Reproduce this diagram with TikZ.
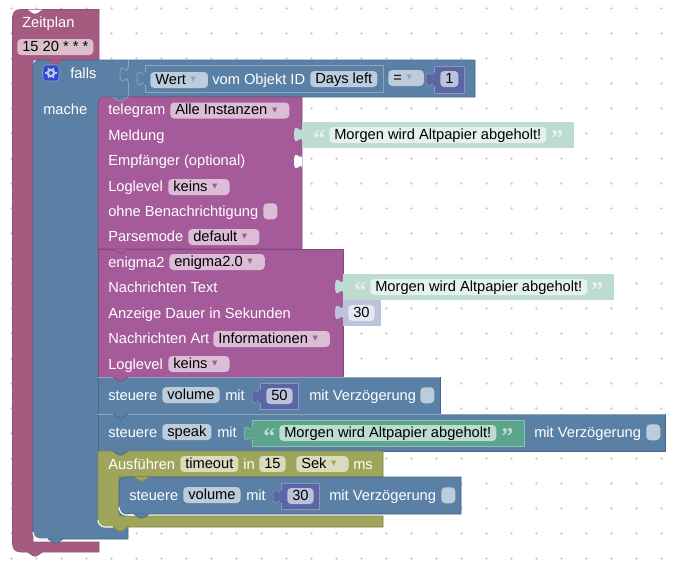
\documentclass[tikz,border=0pt]{standalone}
\usepackage{fontspec}
\setmainfont{Liberation Sans}
\newfontfamily\dejavu{DejaVu Sans}
\newfontfamily\quotefont{Liberation Serif}[BoldFont={Liberation Serif Bold}]

\definecolor{pinkblk}{HTML}{A55B80}
\definecolor{pinkfld}{HTML}{DBBDCC}
\definecolor{pinkdrk}{HTML}{94527A}
\definecolor{blueblk}{HTML}{5B80A5}
\definecolor{bluefld}{HTML}{BDCCDB}
\definecolor{bluelin}{HTML}{8CA6C0}
\definecolor{bluedrk}{HTML}{49668A}
\definecolor{purpblk}{HTML}{A55B99}
\definecolor{purpfld}{HTML}{DBBDD6}
\definecolor{purpdrk}{HTML}{84497A}
\definecolor{olivblk}{HTML}{9FA55B}
\definecolor{olivfld}{HTML}{DADBBD}
\definecolor{olivdrk}{HTML}{7F8449}
\definecolor{indiblk}{HTML}{5B67A5}
\definecolor{indifld}{HTML}{BDC2DB}
\definecolor{indilin}{HTML}{8C95C0}
\definecolor{indilgt}{HTML}{E5E7F1}
\definecolor{greeblk}{HTML}{5BA58C}
\definecolor{greefld}{HTML}{BDDBD1}
\definecolor{greelin}{HTML}{8CC0AE}
\definecolor{greelgt}{HTML}{E5F1ED}
\definecolor{griddot}{HTML}{D4D4D4}
\definecolor{gearblk}{HTML}{3344DD}

% Flecha de los desplegables
\newcommand{\ddarrow}[1]{\makebox[12.75pt][l]{\hspace{3.5pt}\raisebox{0.9pt}{\textcolor{#1}{\dejavu\footnotesize ▾}}}}

\tikzset{
  every node/.style={font=\fontsize{11}{13}\selectfont},
  lbl/.style={text=white, anchor=base west, inner sep=0pt},
  fld/.style={fill=#1, text=black, anchor=base west, rounded corners=3pt, inner xsep=3.75pt,
    inner ysep=0pt, text height=9pt, text depth=3pt},
  chk/.style={fill=#1, rounded corners=3pt, anchor=north west, inner sep=0pt,
    minimum width=10.5pt, minimum height=12pt},
  qmark/.style={text=#1, anchor=base west, inner sep=0pt,
    font=\quotefont\bfseries\fontsize{18}{18}\selectfont},
  inputtab/.pic={\path[pic actions] (0,0) .. controls (0,10) and (-8,-8) .. (-8,7.5)
    .. controls (-8,23) and (0,5) .. (0,15);},
  nexttab/.pic={\path[pic actions] (0,0) -- (5,3.5) .. controls (6,4.5) and (9,4.5) .. (10,3.5) -- (15,0);}
}

\begin{document}
\begin{tikzpicture}[x=0.75pt,y=-0.75pt]
\useasboundingbox (0,0) rectangle (679,564);

% Rejilla de puntos
\foreach \i in {0,...,26} \foreach \j in {0,...,22}
  \draw[griddot, line width=0.4pt] ({11+25*\i-1.5},{8+25*\j}) -- ++(3,0) ({11+25*\i},{8+25*\j-1.5}) -- ++(0,3);

% Bloque Zeitplan
\draw[fill=pinkblk, draw=pinkdrk, line width=0.4pt] (12.5,17) .. controls (12.5,12) and (16,9.5) .. (20,9.5)
  -- (99,9.5) -- (99,60) -- (33,60) -- (33,542) -- (99,542) -- (99,552) -- (20,552)
  .. controls (16,552) and (12.5,549) .. (12.5,544) -- cycle;
\pic[fill=white] at (27.5,9.5) {nexttab};
\node[lbl] (zeitplan) at (22,27) {Zeitplan};
\node[fld=pinkfld] (cron) at (17,51) {15 20 * * *};

% Bloque falls
\draw[fill=blueblk, draw=bluedrk, line width=0.5pt] (33,67) .. controls (33,63) and (36,60) .. (40,60)
  -- (475,60) -- (475,97) -- (128,97) -- (128,539) -- (40,539) .. controls (36,539) and (33,536) .. (33,532) -- cycle;
\fill[blueblk] (98,97) rectangle (128,530);
\draw[bluelin, line width=0.6pt] (128,60) -- (128,67) (128,82) -- (128,97);
\pic[draw=bluelin, line width=0.6pt] at (128,67) {inputtab};
\draw[white, line width=0.8pt] (33,532) .. controls (33,536) and (36,539) .. (40,539) -- (48,539);
\draw[fill=gearblk, draw=bluelin, line width=0.4pt, rounded corners=2.5pt] (43,65) rectangle (59,81);
\fill[bluefld, even odd rule] (51,73) circle (3.3pt) (51,73) circle (1.5pt);
\foreach \a in {0,60,...,300}
  \draw[bluefld, line width=1.1pt] (51,73) ++(\a:3.5) -- ++(\a:2.2);
\node[lbl] (falls) at (70,78) {falls};
\node[lbl] (mache) at (43,114) {mache};

% Bloque de valor
\pic[fill=blueblk, draw=bluelin, line width=0.6pt] at (145,71) {inputtab};
\draw[fill=blueblk, draw=bluelin, line width=0.6pt] (145,65) rectangle (383,92);
\fill[blueblk] (144,72) rectangle (146,85);
\node[fld=bluefld] (wert) at (150,84) {Wert\ddarrow{bluelin}};
\node[lbl] (vomobjekt) at (212,84) {vom Objekt ID};
\node[fld=bluefld] (daysleft) at (310,83) {Days left};
\node[fld=bluefld] (gleich) at (388,82) {=\ddarrow{bluelin}};
\pic[fill=indiblk, draw=indilin, line width=0.4pt] at (434,72) {inputtab};
\draw[fill=indiblk, draw=indilin, line width=0.6pt] (434,66) rectangle (464,93);
\fill[indiblk] (433,73) rectangle (435,86);
\node[fld=indifld, minimum width=13.5pt, align=center] (eins) at (440,83) {1};

% Bloque telegram
\draw[fill=purpblk, draw=purpdrk, line width=0.5pt] (98,104) .. controls (98,100) and (101,97) .. (105,97)
  -- (302,97) -- (302,249) -- (98,249) -- cycle;
\node[lbl] (telegram) at (108,114.5) {telegram};
\node[fld=purpfld] (instanzen) at (170,114.5) {Alle Instanzen\ddarrow{purpblk}};
\node[lbl] (meldung) at (108,140) {Meldung};
\node[lbl] (empfaenger) at (108,165.5) {Empfänger (optional)};
\pic[fill=white] at (302,154) {inputtab};
\node[lbl] (loglevela) at (108,191) {Loglevel};
\node[fld=purpfld] (keinsa) at (168,191) {keins\ddarrow{purpblk}};
\node[lbl] (ohne) at (108,216) {ohne Benachrichtigung};
\node[chk=purpfld] (chka) at (263,203) {};
\node[lbl] (parsemode) at (108,241) {Parsemode};
\node[fld=purpfld] (default) at (188,241) {default\ddarrow{purpblk}};

% Texto de telegram
\pic[fill=greefld] at (302,127) {inputtab};
\fill[greefld] (302,122) rectangle (574,148);
\node[fld=greelgt] (textoa) at (329,139) {Morgen wird Altpapier abgeholt!};
\node[qmark=greelgt] (qaa) at (313,146) {“};
\node[qmark=greelgt] (qab) at (551,146) {”};

% Bloque enigma2
\draw[fill=purpblk, draw=purpdrk, line width=0.5pt] (98,249) -- (343,249) -- (343,377) -- (98,377) -- cycle;
\node[lbl] (enigma) at (108,267) {enigma2};
\node[fld=purpfld] (enigmafld) at (169,266) {enigma2.0\ddarrow{purpblk}};
\node[lbl] (nachtext) at (108,292) {Nachrichten Text};
\node[lbl] (anzeige) at (108,318) {Anzeige Dauer in Sekunden};
\node[lbl] (nachart) at (108,343) {Nachrichten Art};
\node[fld=purpfld] (info) at (213,343) {Informationen\ddarrow{purpblk}};
\node[lbl] (loglevelb) at (108,369) {Loglevel};
\node[fld=purpfld] (keinsb) at (168,368) {keins\ddarrow{purpblk}};

% Texto y numero de enigma2
\pic[fill=greefld] at (343,279) {inputtab};
\fill[greefld] (343,274) rectangle (614,300);
\node[fld=greelgt] (textob) at (370,291) {Morgen wird Altpapier abgeholt!};
\node[qmark=greelgt] (qba) at (354,298) {“};
\node[qmark=greelgt] (qbb) at (591,298) {”};
\pic[fill=indifld] at (343,305) {inputtab};
\fill[indifld] (343,300) rectangle (381,326);
\node[fld=indilgt] (dreissiga) at (348,317) {30};

% Bloque steuere volume
\draw[fill=blueblk, draw=bluedrk, line width=0.5pt] (98,377) -- (440,377) -- (440,414) -- (98,414) -- cycle;
\draw[bluelin, line width=0.4pt] (98,377.5) -- (440,377.5);
\node[lbl] (steuerea) at (108,400) {steuere};
\node[fld=bluefld] (volumea) at (162,399) {volume};
\node[lbl] (mita) at (225,400) {mit};
\pic[fill=indiblk, draw=indilin, line width=0.4pt] at (260,389) {inputtab};
\draw[fill=indiblk, draw=indilin, line width=0.6pt] (260,383) rectangle (298,409);
\fill[indiblk] (259,390) rectangle (261,403);
\node[fld=indifld] (fuenfzig) at (266,400) {50};
\node[lbl] (verza) at (309,400) {mit Verzögerung};
\node[chk=bluefld] (chkb) at (420,387) {};

% Bloque steuere speak
\draw[fill=blueblk, draw=bluedrk, line width=0.5pt] (98,414) -- (665,414) -- (665,451) -- (98,451) -- cycle;
\draw[bluelin, line width=0.4pt] (98,414.5) -- (665,414.5);
\node[lbl] (steuereb) at (108,437) {steuere};
\node[fld=bluefld] (speak) at (162,436) {speak};
\node[lbl] (mitb) at (217,437) {mit};
\pic[fill=greeblk, draw=greelin, line width=0.4pt] at (252,426) {inputtab};
\draw[fill=greeblk, draw=greelin, line width=0.6pt] (252,420) rectangle (524,446);
\fill[greeblk] (251,427) rectangle (253,440);
\node[fld=greefld] (textoc) at (279,437) {Morgen wird Altpapier abgeholt!};
\node[qmark=greefld] (qca) at (263,444) {“};
\node[qmark=greefld] (qcb) at (501,444) {”};
\node[lbl] (verzb) at (534,437) {mit Verzögerung};
\node[chk=bluefld] (chkc) at (646,424) {};

% Bloque Ausfuehren
\draw[fill=olivblk, draw=olivdrk, line width=0.5pt] (98,451) -- (383,451) -- (383,477) -- (119,477) -- (119,516) -- (383,516)
  -- (383,527) -- (105,527) .. controls (101,527) and (98,524) .. (98,520) -- cycle;
\draw[white, line width=0.8pt] (98,520) .. controls (98,524) and (101,527) .. (105,527) -- (113,527);
\node[lbl] (ausfuehren) at (108,469) {Ausführen};
\node[fld=olivfld] (timeout) at (180,468) {timeout};
\node[lbl] (in) at (243,469) {in};
\node[fld=olivfld] (fuenfzehn) at (259,468) {15};
\node[fld=olivfld] (sek) at (296,468) {Sek\ddarrow{olivblk}};
\node[lbl] (ms) at (353,469) {ms};

% Bloque steuere volume interior
\draw[fill=blueblk, draw=bluedrk, line width=0.5pt] (119,484) .. controls (119,480) and (122,477) .. (126,477) -- (461,477)
  -- (461,514) -- (126,514) .. controls (122,514) and (119,511) .. (119,507) -- cycle;
\draw[white, line width=0.8pt] (119,507) .. controls (119,511) and (122,515) .. (126,515) -- (134,515);
\node[lbl] (steuerec) at (129,500) {steuere};
\node[fld=bluefld] (volumeb) at (183,499) {volume};
\node[lbl] (mitc) at (246,500) {mit};
\pic[fill=indiblk, draw=indilin, line width=0.4pt] at (281,489) {inputtab};
\draw[fill=indiblk, draw=indilin, line width=0.6pt] (281,483) rectangle (319,509);
\fill[indiblk] (280,490) rectangle (282,503);
\node[fld=indifld] (dreissigb) at (287,500) {30};
\node[lbl] (verzc) at (329,500) {mit Verzögerung};
\node[chk=bluefld] (chkd) at (441,487) {};

% Muescas entre bloques
\pic[fill=pinkblk, draw=pinkdrk, line width=0.4pt] at (27.5,552) {nexttab};
\pic[fill=pinkblk, draw=pinkdrk, line width=0.4pt] at (48,60) {nexttab};
\pic[fill=blueblk, draw=bluedrk, line width=0.5pt] at (48,539) {nexttab};
\pic[fill=blueblk, draw=bluelin, line width=0.5pt] at (113,97) {nexttab};
\pic[fill=purpblk, draw=purpdrk, line width=0.5pt] at (113,249) {nexttab};
\pic[fill=purpblk, draw=purpdrk, line width=0.5pt] at (113,377) {nexttab};
\pic[fill=blueblk, draw=bluedrk, line width=0.5pt] at (113,414) {nexttab};
\pic[fill=blueblk, draw=bluedrk, line width=0.5pt] at (113,451) {nexttab};
\pic[fill=olivblk, draw=olivdrk, line width=0.5pt] at (113,527) {nexttab};
\pic[fill=olivblk, draw=olivdrk, line width=0.5pt] at (134,477) {nexttab};
\pic[fill=blueblk, draw=bluedrk, line width=0.5pt] at (134,514) {nexttab};
\end{tikzpicture}
\end{document}
